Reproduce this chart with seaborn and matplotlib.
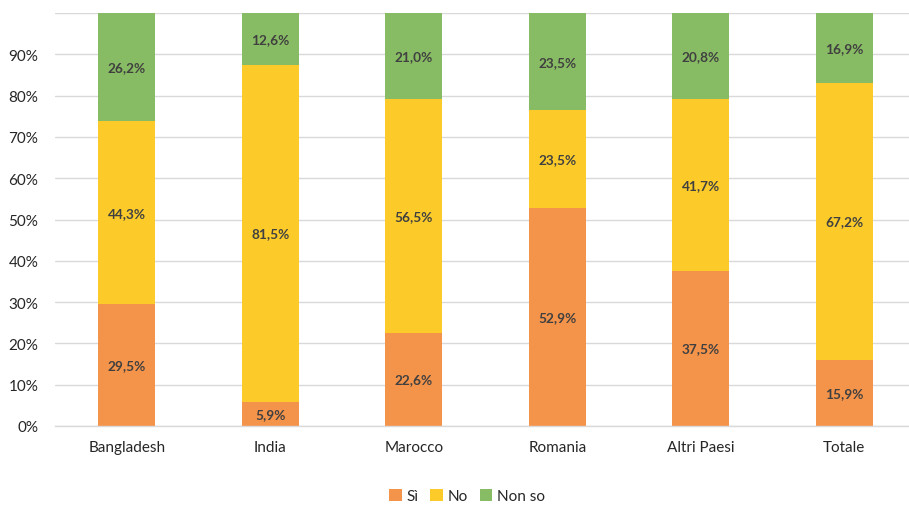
import matplotlib
matplotlib.use("Agg")
import matplotlib.pyplot as plt
import seaborn as sns
import numpy as np
import pandas as pd
from matplotlib.ticker import FuncFormatter
from matplotlib.patches import Patch

categories = ["Bangladesh", "India", "Marocco", "Romania", "Altri Paesi", "Totale"]
si = [29.5, 5.9, 22.6, 52.9, 37.5, 15.9]
no = [44.3, 81.5, 56.5, 23.5, 41.7, 67.2]
non_so = [26.2, 12.6, 21.0, 23.5, 20.8, 16.9]
series_names = ["Sì", "No", "Non so"]
colors = ["#F4934A", "#FCCB2A", "#88BC64"]

sns.set_theme(style="white")
plt.rcParams['font.family'] = ['Lato', 'DejaVu Sans']

fig = plt.figure(figsize=(9.09, 5.06), dpi=100)
ax = fig.add_axes([55/909, 1-427/506, 861/909, (427-14)/506])

df = pd.DataFrame({"cat": categories, "Sì": si, "No": no, "Non so": non_so})
bottom = np.zeros(len(categories))
for name, col in zip(series_names, colors):
    vals = df[name].to_numpy()
    sns.barplot(x="cat", y=name, data=df, color=col, width=0.40, ax=ax,
                bottom=bottom, saturation=1, linewidth=0)
    for i, v in enumerate(vals):
        ax.text(i, bottom[i] + v / 2, f"{v:.1f}%".replace(".", ","),
                ha="center", va="center", fontsize=9.8, fontweight="bold",
                color="#404040")
    bottom = bottom + vals

ax.set_ylim(0, 100)
ax.set_xlim(-0.5, len(categories) - 0.5)
ax.set_yticks(np.arange(0, 100, 10))
ax.yaxis.set_major_formatter(FuncFormatter(lambda v, p: f"{int(round(v))}%"))
ax.yaxis.grid(True, color="#D9D9D9", linewidth=1)
ax.axhline(100, color="#D9D9D9", linewidth=1, zorder=0)
ax.set_axisbelow(True)
for s in ["top", "right", "left"]:
    ax.spines[s].set_visible(False)
ax.spines["bottom"].set_color("#D9D9D9")
ax.spines["bottom"].set_linewidth(1)
ax.set_xlabel("")
ax.set_ylabel("")
ax.tick_params(axis="both", length=0, labelsize=11, colors="#262626")
ax.tick_params(axis="x", pad=10)
ax.tick_params(axis="y", pad=12)

handles = [Patch(facecolor=c, edgecolor="none", label=n) for n, c in zip(series_names, colors)]
fig.legend(handles=handles, loc="center", bbox_to_anchor=(467/909, 1-497/506), ncol=3,
           frameon=False, fontsize=11, handlelength=0.8, handleheight=0.8,
           handletextpad=0.3, columnspacing=0.8, labelcolor="#262626")

fig.savefig("out.png", dpi=100)
